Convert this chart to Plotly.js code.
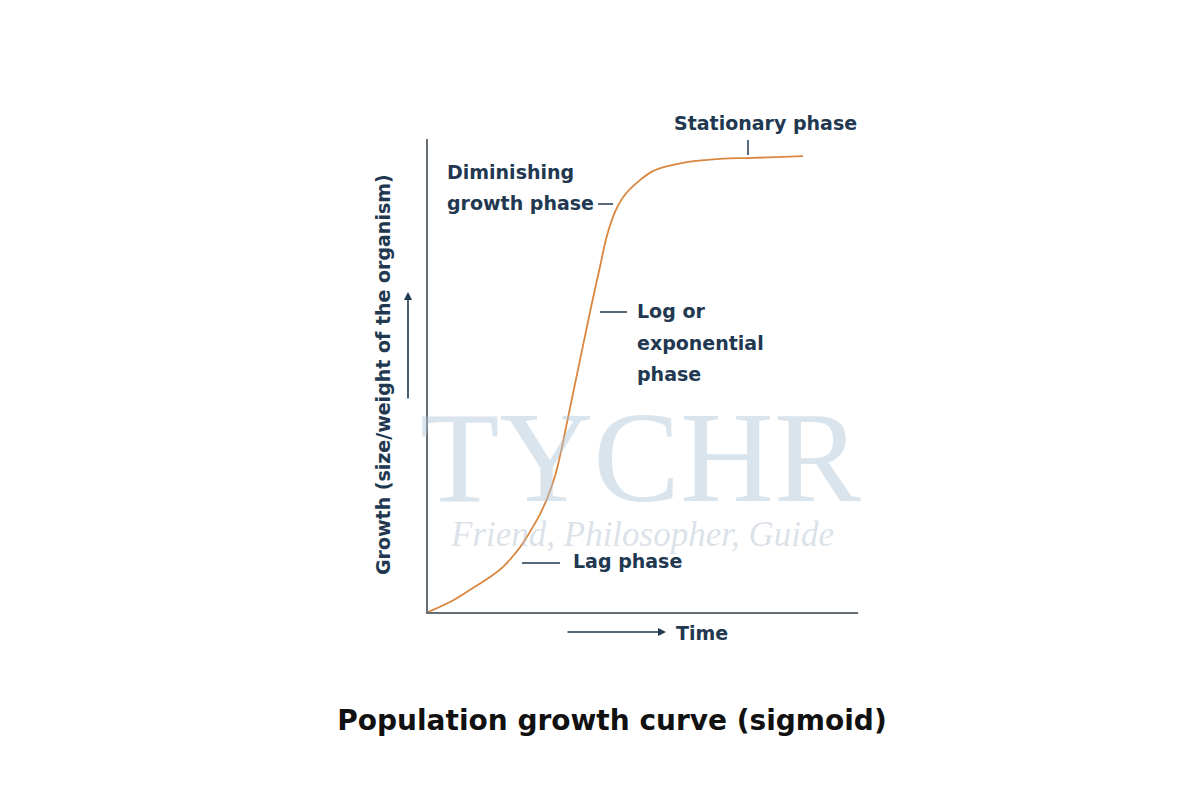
<!DOCTYPE html>
<html>
<head>
<meta charset="utf-8">
<script src="https://cdn.plot.ly/plotly-3.0.1.min.js"></script>
<style>html,body{margin:0;padding:0;background:#fff;}#chart{width:1200px;height:800px;}</style>
</head>
<body>
<div id="chart"></div>
<script>
// Sigmoid growth curve (time 0-100, growth 0-100)
const time   = [0, 5.1, 9.8, 14.4, 17.4, 20.2, 22.1, 24.4, 26.0, 27.7, 29.0, 30.0, 31.0, 32.0, 34.0, 36.0, 38.0, 40.0, 41.6, 43.5, 45.8, 49.3, 52.3, 56.0, 60.2, 67.9, 75.6, 87.2];
const growth = [0, 2.1, 4.7, 7.4, 9.5, 12.3, 14.6, 18.0, 20.6, 24.0, 27.2, 30.3, 34.2, 38.6, 47.4, 56.1, 64.8, 73.0, 79.5, 84.6, 88.2, 91.3, 93.2, 94.3, 95.1, 95.8, 96.0, 96.4];

const chartTitle = "Population growth curve (sigmoid)";
const xTitle = "Time";
const yTitle = "Growth (size/weight of the organism)";
const stationaryLines = ["Stationary phase"];
const diminishingLines = ["Diminishing", "growth phase"];
const logLines = ["Log or", "exponential", "phase"];
const lagLines = ["Lag phase"];

// pixel -> paper helpers for label placement (plot area 428..858 x 139..612)
const PX = px => (px - 428) / 430;
const PY = py => (612 - py) / 473;

const navy = "#213850";
const labelFont = {family: "'DejaVu Sans', sans-serif", size: 19, color: navy, weight: 700};

const trace = {
  x: time, y: growth, type: "scatter", mode: "lines",
  line: {color: "#d9863f", width: 1.8, shape: "spline", smoothing: 1.1},
  hoverinfo: "skip"
};

const dash = (x0, x1, y0, y1) => ({type: "line", xref: "paper", yref: "paper",
  x0: PX(x0), x1: PX(x1), y0: PY(y0), y1: PY(y1), line: {color: navy, width: 1.5}});

// multi-line labels drawn one line per annotation to match the wider line spacing
const labelLines = (lines, px, py0, step, anchor) => lines.map((t, i) => ({
  xref: "paper", yref: "paper", x: PX(px), y: PY(py0 + i * step), text: t, showarrow: false,
  xanchor: anchor, yanchor: "middle", font: labelFont}));

const layout = {
  width: 1200, height: 800,
  paper_bgcolor: "#ffffff", plot_bgcolor: "rgba(0,0,0,0)",
  margin: {l: 428, r: 342, t: 139, b: 188},
  showlegend: false,
  title: {text: chartTitle, x: 0.51, xanchor: "center", y: 0.1, yanchor: "middle",
          font: {family: "'DejaVu Sans', sans-serif", size: 28, color: "#111111", weight: 700}},
  xaxis: {range: [0, 100], showline: true, linecolor: "#666d75", linewidth: 2,
          showgrid: false, zeroline: false, showticklabels: false, ticks: "", fixedrange: true},
  yaxis: {range: [0, 100], showline: true, linecolor: "#666d75", linewidth: 2,
          showgrid: false, zeroline: false, showticklabels: false, ticks: "", fixedrange: true},
  shapes: [
    dash(748, 748, 155, 140),
    dash(598, 613, 204, 204),
    dash(600, 627, 312, 312),
    dash(522, 560, 563, 563)
  ],
  annotations: [
    // watermark
    {xref: "paper", yref: "paper", x: PX(640), y: PY(457), text: "TYCHR", showarrow: false, xanchor: "center", yanchor: "middle",
     font: {family: "'Liberation Serif', serif", size: 130, color: "rgba(170,195,215,0.45)"}},
    {xref: "paper", yref: "paper", x: PX(642), y: PY(534), text: "<i>Friend, Philosopher, Guide</i>", showarrow: false, xanchor: "center", yanchor: "middle",
     font: {family: "'Liberation Serif', serif", size: 35, color: "rgba(175,190,205,0.45)"}},
    // phase labels
    ...labelLines(stationaryLines, 765, 123, 0, "center"),
    ...labelLines(diminishingLines, 445, 172, 31, "left"),
    ...labelLines(logLines, 635, 311, 31.5, "left"),
    ...labelLines(lagLines, 571, 561, 0, "left"),
    // axis titles
    {xref: "paper", yref: "paper", x: PX(674), y: PY(633), text: xTitle, showarrow: false, xanchor: "left", yanchor: "middle", font: labelFont},
    {xref: "paper", yref: "paper", x: PX(383), y: PY(375), text: yTitle, showarrow: false, textangle: -90, xanchor: "center", yanchor: "middle", font: labelFont},
    // axis arrows
    {xref: "paper", yref: "paper", x: PX(666), y: PY(632), ax: -100, ay: 0, text: "", showarrow: true, arrowhead: 2, arrowsize: 1, arrowwidth: 1.6, arrowcolor: navy},
    {xref: "paper", yref: "paper", x: PX(408), y: PY(292), ax: 0, ay: 108, text: "", showarrow: true, arrowhead: 2, arrowsize: 1, arrowwidth: 1.6, arrowcolor: navy}
  ]
};

Plotly.newPlot("chart", [trace], layout, {displayModeBar: false, staticPlot: true});
</script>
</body>
</html>
